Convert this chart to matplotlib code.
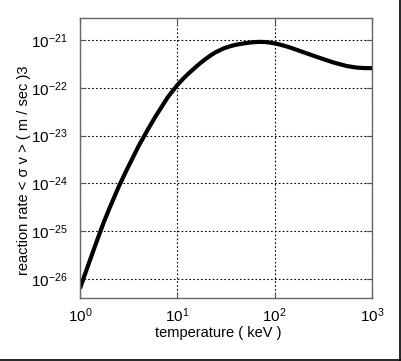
import matplotlib
matplotlib.use("Agg")
import matplotlib.pyplot as plt
from matplotlib.lines import Line2D

plt.rcParams['font.family'] = ['Liberation Sans', 'DejaVu Sans']
plt.rcParams['mathtext.fontset'] = 'custom'
plt.rcParams['mathtext.rm'] = 'Liberation Sans'
plt.rcParams['mathtext.default'] = 'regular'

# temperature (keV) and reaction rate <sigma v> (m^3/s)
temperature = [1, 1.1, 1.2, 1.35, 1.5, 1.75, 2, 2.5, 3, 4, 5, 6, 8, 10, 11.5,
               13, 15, 17, 19.5, 22, 25, 30, 35, 40, 47, 55, 60, 70, 80, 90,
               105, 120, 140, 160, 220, 300, 400, 550, 700, 850, 1000]
rate = [6.31e-27, 1.10e-26, 1.82e-26, 3.55e-26, 6.46e-26, 1.51e-25, 2.95e-25,
        8.51e-25, 1.86e-24, 6.03e-24, 1.36e-23, 2.55e-23, 6.40e-23, 1.14e-22,
        1.55e-22, 1.98e-22, 2.57e-22, 3.21e-22, 4.00e-22, 4.76e-22, 5.60e-22,
        6.68e-22, 7.41e-22, 7.94e-22, 8.41e-22, 8.81e-22, 8.97e-22, 9.12e-22,
        9.06e-22, 8.81e-22, 8.32e-22, 7.76e-22, 7.08e-22, 6.46e-22, 5.13e-22,
        4.12e-22, 3.39e-22, 2.85e-22, 2.64e-22, 2.58e-22, 2.57e-22]

xticks = [1, 10, 100, 1000]
yticks = [1e-26, 1e-25, 1e-24, 1e-23, 1e-22, 1e-21]

fig = plt.figure(figsize=(4.01, 3.61), dpi=100)
ax = fig.add_axes([80 / 401, 1 - 298 / 361, 292 / 401, 280 / 361])

ax.plot(temperature, rate, color='black', lw=3, solid_capstyle='butt',
        solid_joinstyle='round')
ax.set_xscale('log')
ax.set_yscale('log')
ax.set_xlim(1, 1000)
ax.set_ylim(10 ** -26.4, 10 ** -20.54)
ax.set_xticks(xticks)
ax.set_yticks(yticks)
ax.minorticks_off()
ax.grid(True, which='major', color='black', linestyle=(0, (1.5, 2)), lw=0.8)

ax.tick_params(direction='in', length=4, top=True, right=True,
               labelsize=11, color='#555555')
ax.tick_params(axis='y', pad=9)
ax.tick_params(axis='x', pad=6)
for s in ax.spines.values():
    s.set_color('#666666')
    s.set_linewidth(1)

ax.set_xlabel('temperature ( keV )', fontsize=10.5)
ax.set_ylabel('reaction rate < σ v > ( m / sec )3', fontsize=10.5)
ax.xaxis.set_label_coords((218.5 - 80) / 292, (298 - 333) / 280)
ax.xaxis.label.set_va('center')
ax.yaxis.set_label_coords((24.5 - 80) / 292, (298 - 170) / 280)
ax.yaxis.label.set_va('center')

# screenshot frame at bottom and right
fig.add_artist(Line2D([0, 399.5 / 401], [1 - 359.5 / 361] * 2, color='black', lw=1.2))
fig.add_artist(Line2D([399.5 / 401] * 2, [1 - 359.5 / 361, 1], color='black', lw=1.2))

fig.savefig('out.png', dpi=100)
